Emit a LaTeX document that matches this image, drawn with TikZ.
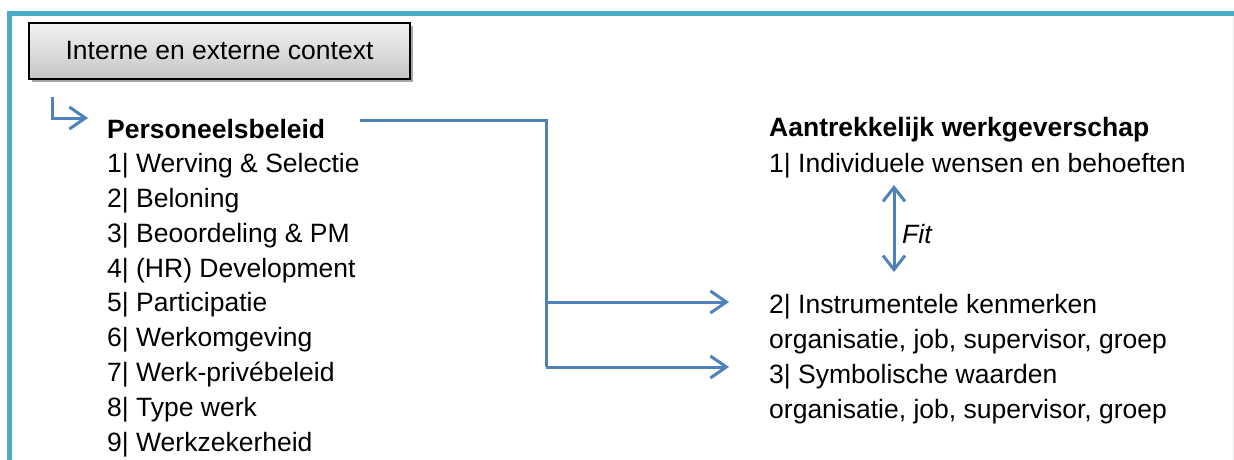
\documentclass[tikz,border=0pt]{standalone}
\usepackage{fontspec}
\setmainfont{Liberation Sans}
\usetikzlibrary{arrows.meta,shadows}
\definecolor{frameaqua}{HTML}{4BACC6}
\definecolor{linkblue}{HTML}{4F81BD}
\tikzset{
  txt/.style={anchor=base west, inner sep=0pt, font=\fontsize{26.5}{30}\selectfont},
  head/.style={txt, font=\fontsize{26.5}{30}\selectfont\bfseries},
  link/.style={draw=linkblue, line width=3pt, -{Straight Barb[length=16pt,width=22pt,line width=3pt]}},
  plain/.style={draw=linkblue, line width=3pt},
  ctxbox/.style={draw=black, line width=2.2pt, top color=gray!10, bottom color=gray!45,
    minimum width=381pt, minimum height=56pt, inner sep=0pt,
    font=\fontsize{26.5}{30}\selectfont,
    drop shadow={shadow xshift=2.5pt, shadow yshift=-3pt, fill=gray!70, opacity=1}}
}
\begin{document}
\begin{tikzpicture}[x=1pt,y=-1pt]
\useasboundingbox (0,0) rectangle (1234,459);
\fill[white] (0,0) rectangle (1234,459);
% outer frame (open at the bottom and right)
\draw[frameaqua, line width=5.5pt] (9.5,470) -- (9.5,13.5) -- (1240,13.5);
\draw[gray!15, line width=1pt] (1233,16) -- (1233,470);

% context box
\node[ctxbox] (ctx) at (219.5,51) {Interne en externe context};

% left column
\node[head] (pb) at (107,138) {Personeelsbeleid};
\foreach \i/\t in {1/{1| Werving \& Selectie},2/{2| Beloning},3/{3| Beoordeling \& PM},
  4/{4| (HR) Development},5/{5| Participatie},6/{6| Werkomgeving},
  7/{7| Werk-privébeleid},8/{8| Type werk},9/{9| Werkzekerheid}}
  \node[txt] (l\i) at (107,{172.7+34.8*(\i-1)}) {\t};

% right column
\node[head] (aw) at (769,136) {Aantrekkelijk werkgeverschap};
\node[txt] (r1) at (769,172.7) {1| Individuele wensen en behoeften};
\node[txt] (r2) at (769,313) {2| Instrumentele kenmerken};
\node[txt] (r2b) at (769,348) {organisatie, job, supervisor, groep};
\node[txt] (r3) at (769,383) {3| Symbolische waarden};
\node[txt] (r3b) at (769,418) {organisatie, job, supervisor, groep};

% fit arrow
\coordinate (fitTop) at (894,185);
\coordinate (fitBot) at (894,272);
\draw[plain, {Straight Barb[length=14pt,width=22pt,line width=3pt]}-{Straight Barb[length=14pt,width=22pt,line width=3pt]}] (fitTop) -- (fitBot);
\node[txt, font=\fontsize{26.5}{30}\selectfont\itshape] (fit) at (902,243) {Fit};

% context to policy
\coordinate (cA) at (52,97);
\coordinate (cB) at (52,118);
\draw[link] (cA) -- (cB) -- (88,118);

% policy to characteristics
\coordinate (pStart) at (360,120);
\coordinate (pCorner) at (546,120);
\coordinate (pJ1) at (546,302);
\coordinate (pJ2) at (546,367);
\coordinate (pE1) at (729,302);
\coordinate (pE2) at (729,367);
\draw[plain] (pStart) -- (pCorner) -- (pJ2);
\draw[link] (pJ1) -- (pE1);
\draw[link] (pJ2) -- (pE2);
\end{tikzpicture}
\end{document}
